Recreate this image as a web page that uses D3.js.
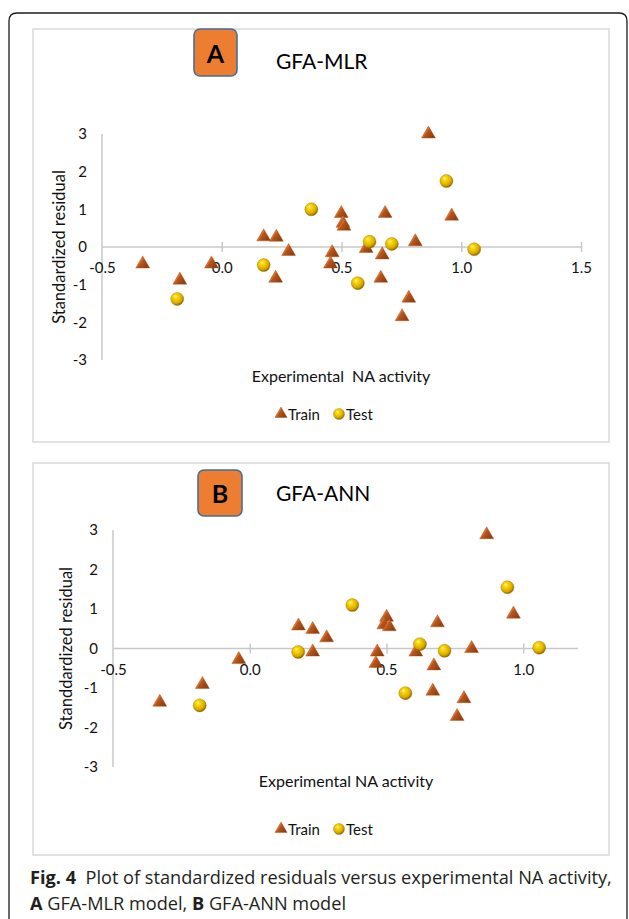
<!DOCTYPE html>
<html>
<head>
<meta charset="utf-8">
<script src="https://cdn.jsdelivr.net/npm/d3@7"></script>
<style>
  html, body { margin: 0; padding: 0; background: #fff; }
  svg { display: block; }
</style>
</head>
<body>
<svg id="fig" width="629" height="919"></svg>
<script>
// Standardized residual vs experimental NA activity, [activity, residual]
const mlrTrain = [
  [-0.33, -0.45], [-0.175, -0.88], [-0.043, -0.45], [0.175, 0.27], [0.228, 0.26],
  [0.279, -0.12], [0.225, -0.83], [0.461, -0.15], [0.454, -0.45], [0.499, 0.89],
  [0.506, 0.63], [0.51, 0.55], [0.603, -0.04], [0.682, 0.89], [0.67, -0.21],
  [0.664, -0.83], [0.808, 0.14], [0.781, -1.36], [0.753, -1.85], [0.863, 3.0],
  [0.96, 0.82]
];
const mlrTest = [
  [-0.186, -1.38], [0.175, -0.48], [0.374, 1.0], [0.617, 0.14],
  [0.71, 0.08], [0.568, -0.96], [0.938, 1.75], [1.054, -0.06]
];
const annTrain = [
  [-0.329, -1.36], [-0.173, -0.91], [-0.04, -0.28], [0.178, 0.57], [0.23, 0.48],
  [0.281, 0.27], [0.23, -0.09], [0.5, 0.79], [0.49, 0.6], [0.51, 0.55],
  [0.466, -0.09], [0.461, -0.38], [0.607, -0.09], [0.686, 0.65], [0.673, -0.44],
  [0.669, -1.08], [0.811, 0.0], [0.783, -1.27], [0.758, -1.72], [0.866, 2.88],
  [0.964, 0.87]
];
const annTest = [
  [-0.183, -1.44], [0.177, -0.09], [0.375, 1.1], [0.622, 0.11],
  [0.712, -0.06], [0.569, -1.13], [0.942, 1.55], [1.058, 0.02]
];

// Axis ticks
const mlrXTicks = [-0.5, 0.0, 0.5, 1.0, 1.5];
const annXTicks = [-0.5, 0.0, 0.5, 1.0];
const residualTicks = [-3, -2, -1, 0, 1, 2, 3];

// Texts
const seriesNames = ["Train", "Test"];
const captionLine1 = [["Fig. 4", true], ["\u00a0 Plot of standardized residuals versus experimental NA activity,", false]];
const captionLine2 = [["A", true], [" GFA-MLR model, ", false], ["B", true], [" GFA-ANN model", false]];

const FONT = "Lato, 'Open Sans', sans-serif";
const svg = d3.select("#fig");
const defs = svg.append("defs");

// 3-D looking marker fills
const tri = defs.append("linearGradient").attr("id", "triFill")
  .attr("x1", "0").attr("y1", "0").attr("x2", "1").attr("y2", "0.6");
tri.append("stop").attr("offset", "0%").attr("stop-color", "#f09a5c");
tri.append("stop").attr("offset", "48%").attr("stop-color", "#d4692a");
tri.append("stop").attr("offset", "52%").attr("stop-color", "#b9561c");
tri.append("stop").attr("offset", "100%").attr("stop-color", "#8f3e0e");

const ball = defs.append("radialGradient").attr("id", "ballFill")
  .attr("cx", "0.42").attr("cy", "0.38").attr("r", "0.62")
  .attr("fx", "0.36").attr("fy", "0.3");
ball.append("stop").attr("offset", "0%").attr("stop-color", "#fff7b0");
ball.append("stop").attr("offset", "25%").attr("stop-color", "#ffd800");
ball.append("stop").attr("offset", "75%").attr("stop-color", "#d8a800");
ball.append("stop").attr("offset", "100%").attr("stop-color", "#8a6400");

// Outer frame of the figure
svg.append("path")
  .attr("d", "M9,930 L9,21 Q9,13 17,13 L619,13 Q627,13 627,21 L627,930")
  .attr("fill", "none").attr("stroke", "#1c1c1c").attr("stroke-width", 1.3);

const panels = [
  {
    letter: "A", title: "GFA-MLR", train: mlrTrain, test: mlrTest,
    xTicks: mlrXTicks, xDomain: [-0.5, 1.5],
    box: [33, 29, 609, 442], badge: [194, 29, 43, 47], titleX: 276, titleY: 69,
    xRange: [102, 581], yRange: [360, 134],
    yTitle: "Standardized residual", yTitleX: 65,
    xTitle: "Experimental\u00a0 NA activity", xTitleX: 341, xTitleY: 382,
    legendY: 414
  },
  {
    letter: "B", title: "GFA-ANN", train: annTrain, test: annTest,
    xTicks: annXTicks, xDomain: [-0.5, 1.2],
    box: [33, 463, 609, 855], badge: [198, 470, 44, 46], titleX: 276, titleY: 501,
    xRange: [113, 578], yRange: [767, 530],
    yTitle: "Standdardized residual", yTitleX: 72,
    xTitle: "Experimental NA activity", xTitleX: 346, xTitleY: 787,
    legendY: 829
  }
];

const triSymbol = d3.symbol().type(d3.symbolTriangle).size(84);
const legendTri = d3.symbol().type(d3.symbolTriangle).size(64);

panels.forEach(p => {
  const g = svg.append("g");
  const [bx0, by0, bx1, by1] = p.box;

  g.append("rect")
    .attr("x", bx0).attr("y", by0).attr("width", bx1 - bx0).attr("height", by1 - by0)
    .attr("fill", "#fff").attr("stroke", "#d9d9d9").attr("stroke-width", 1.5);

  // Panel badge and title
  const [rx, ry, rw, rh] = p.badge;
  g.append("rect")
    .attr("x", rx).attr("y", ry).attr("width", rw).attr("height", rh)
    .attr("rx", 6).attr("fill", "#ed7d31").attr("stroke", "#41719c").attr("stroke-width", 1.6);
  g.append("text")
    .attr("x", rx + rw / 2).attr("y", ry + rh / 2 + 10)
    .attr("text-anchor", "middle").attr("font-family", FONT)
    .attr("font-weight", "bold").attr("font-size", 25).attr("fill", "#000")
    .text(p.letter);
  g.append("text")
    .attr("x", p.titleX).attr("y", p.titleY)
    .attr("font-family", FONT).attr("font-size", 21).attr("fill", "#000")
    .text(p.title);

  const x = d3.scaleLinear().domain(p.xDomain).range(p.xRange);
  const y = d3.scaleLinear().domain([-3, 3]).range(p.yRange);
  const y0 = y(0);

  // Vertical axis line and its labels
  g.append("line")
    .attr("x1", x(p.xDomain[0])).attr("x2", x(p.xDomain[0]))
    .attr("y1", y(3)).attr("y2", y(-3))
    .attr("stroke", "#c8c8c8").attr("stroke-width", 1.5);
  const yAxis = g.append("g")
    .attr("transform", `translate(${x(p.xDomain[0])},0)`)
    .call(d3.axisLeft(y).tickValues(residualTicks).tickSize(0).tickPadding(15)
      .tickFormat(d => String(d)));
  yAxis.select(".domain").remove();
  yAxis.selectAll("text")
    .attr("font-family", FONT).attr("font-size", 15).attr("fill", "#111");

  // Horizontal axis line at zero with crossing tick marks
  g.append("line")
    .attr("x1", x(p.xDomain[0])).attr("x2", x(p.xDomain[1]))
    .attr("y1", y0).attr("y2", y0)
    .attr("stroke", "#c8c8c8").attr("stroke-width", 1.5);
  const xMarks = g.append("g")
    .attr("transform", `translate(0,${y0 - 5})`)
    .call(d3.axisBottom(x).tickValues(p.xTicks.slice(1)).tickSize(10).tickSizeOuter(0)
      .tickFormat(""));
  xMarks.select(".domain").remove();
  xMarks.selectAll("line").attr("stroke", "#c8c8c8").attr("stroke-width", 1.5);

  const xLabels = g.append("g")
    .attr("transform", `translate(0,${y0})`)
    .call(d3.axisBottom(x).tickValues(p.xTicks).tickSize(0)
      .tickFormat(d => d.toFixed(1)));
  xLabels.select(".domain").remove();
  xLabels.selectAll("text")
    .attr("y", 26).attr("dy", null)
    .attr("font-family", FONT).attr("font-size", 15).attr("fill", "#111");

  // Axis titles
  g.append("text")
    .attr("transform", `translate(${p.yTitleX},${(y(3) + y(-3)) / 2}) rotate(-90)`)
    .attr("text-anchor", "middle").attr("font-family", FONT)
    .attr("font-size", 16.5).attr("fill", "#111")
    .text(p.yTitle);
  g.append("text")
    .attr("x", p.xTitleX).attr("y", p.xTitleY)
    .attr("text-anchor", "middle").attr("font-family", FONT)
    .attr("font-size", 16).attr("fill", "#111")
    .text(p.xTitle);

  // Data markers
  g.append("g").selectAll("path").data(p.train).join("path")
    .attr("d", triSymbol)
    .attr("transform", d => `translate(${x(d[0])},${y(d[1])})`)
    .attr("fill", "url(#triFill)").attr("stroke", "#a3480f").attr("stroke-width", 0.4);
  g.append("g").selectAll("circle").data(p.test).join("circle")
    .attr("cx", d => x(d[0])).attr("cy", d => y(d[1])).attr("r", 6.5)
    .attr("fill", "url(#ballFill)").attr("stroke", "#9a7400").attr("stroke-width", 0.4);

  // Legend
  const ly = p.legendY;
  g.append("path").attr("d", legendTri)
    .attr("transform", `translate(281,${ly})`)
    .attr("fill", "url(#triFill)").attr("stroke", "#a3480f").attr("stroke-width", 0.4);
  g.append("text").attr("x", 288).attr("y", ly + 5.5)
    .attr("font-family", FONT).attr("font-size", 15).attr("fill", "#111")
    .text(seriesNames[0]);
  g.append("circle").attr("cx", 339).attr("cy", ly).attr("r", 5.5)
    .attr("fill", "url(#ballFill)").attr("stroke", "#9a7400").attr("stroke-width", 0.4);
  g.append("text").attr("x", 346).attr("y", ly + 5.5)
    .attr("font-family", FONT).attr("font-size", 15).attr("fill", "#111")
    .text(seriesNames[1]);
});

// Figure caption, condensed horizontally to the column width
const cap = svg.append("g").attr("font-family", "'Open Sans', sans-serif")
  .attr("font-size", 18).attr("fill", "#231f20");
function captionLine(parts, yy) {
  const t = cap.append("text").attr("x", 0).attr("y", yy);
  parts.forEach(([s, bold]) => {
    t.append("tspan").attr("font-weight", bold ? "bold" : "normal").text(s);
  });
  return t;
}
const l1 = captionLine(captionLine1, 884);
const l2 = captionLine(captionLine2, 910);
const k = 582 / l1.node().getComputedTextLength();
[l1, l2].forEach(t => t.attr("transform", `translate(30,0) scale(${k},1)`));
</script>
</body>
</html>
